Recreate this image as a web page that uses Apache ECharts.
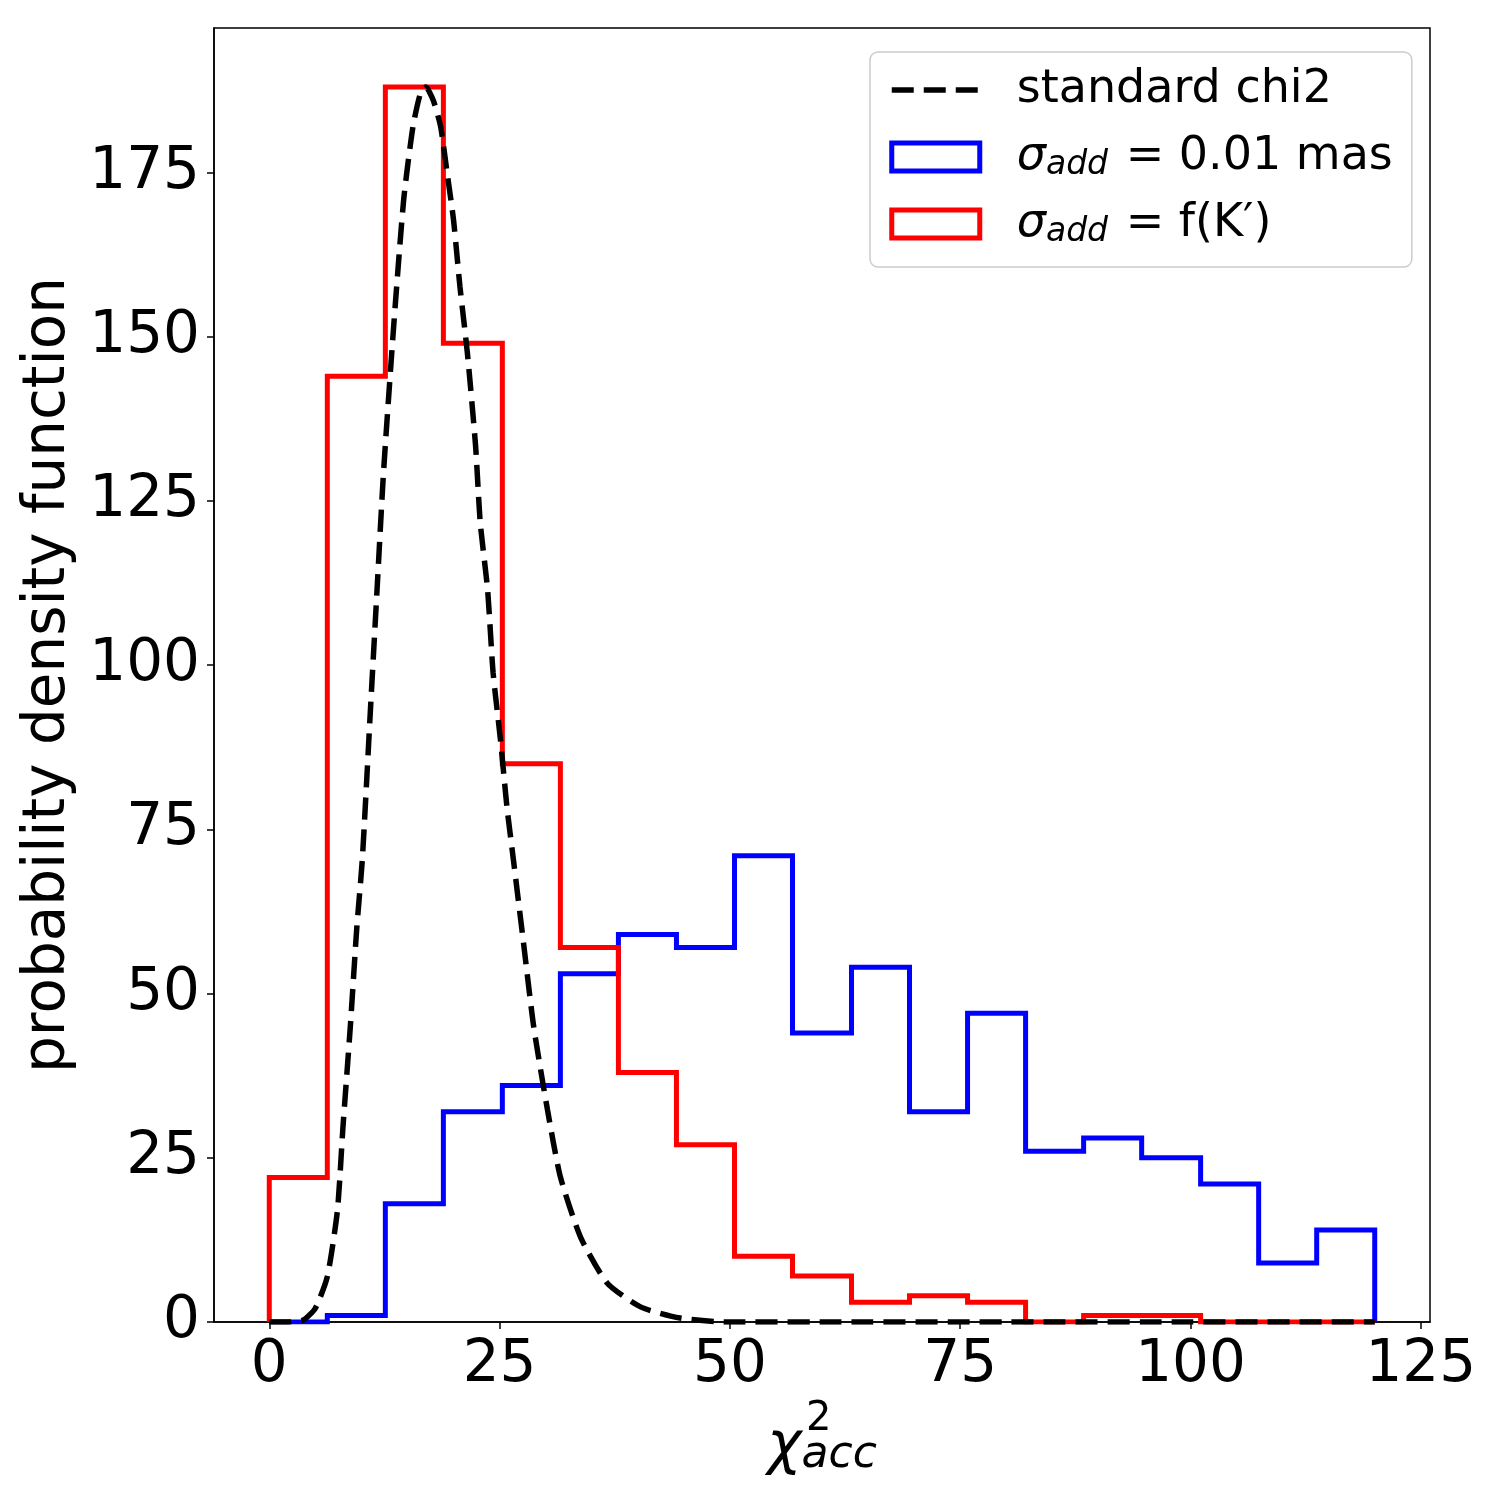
<!DOCTYPE html>
<html>
<head>
<meta charset="utf-8">
<script src="https://cdn.jsdelivr.net/npm/echarts@6/dist/echarts.min.js"></script>
<style>
  html, body { margin: 0; padding: 0; background: #fff; }
  #chart { width: 1500px; height: 1500px; }
</style>
</head>
<body>
<div id="chart"></div>
<script>
// histogram bin edges and counts
const binEdges = [0, 6.3, 12.6, 18.9, 25.3, 31.6, 37.9, 44.2, 50.5, 56.8, 63.2, 69.5, 75.8, 82.1, 88.4, 94.7, 101.1, 107.4, 113.7, 120];
const blueCounts = [0, 1, 18, 32, 36, 53, 59, 57, 71, 44, 54, 32, 47, 26, 28, 25, 21, 9, 14];
const redCounts = [22, 144, 188, 149, 85, 57, 38, 27, 10, 7, 3, 4, 3, 0, 1, 1, 0, 0, 0];

// dashed reference curve, sampled by eye
const chi2X = [0, 2, 3.7, 5.0, 6.3, 7.4, 8.0, 8.8, 9.5, 10.1, 11.0, 11.7, 12.4, 13.5, 14.6, 15.6, 16.4, 17.0, 17.8, 18.6, 19.3, 20.0, 20.7, 21.5, 22.4, 22.9, 23.7, 24.3, 25.1, 25.8, 26.5, 27.6, 28.7, 30.2, 31.6, 33.8, 36.7, 40.3, 44.6, 49.7, 60, 80, 100, 120];
const chi2Y = [0, 0, 0.3, 2.1, 6.9, 17, 29.7, 45, 60, 70.4, 93.7, 111.5, 129.3, 151.5, 171, 182, 187, 188, 186, 182, 175, 167.8, 157.6, 147.6, 133.3, 121.7, 111.5, 98.8, 88.6, 78.4, 70.4, 57.7, 45, 32.3, 22.1, 12.9, 5.9, 2.3, 0.6, 0, 0, 0, 0, 0];

const xTicks = [0, 25, 50, 75, 100, 125];
const yTicks = [0, 25, 50, 75, 100, 125, 150, 175];

const FONT = 'DejaVu Sans';

const stepOutline = (edges, counts) => {
    const pts = [[edges[0], 0]];
    for (let i = 0; i < counts.length; i++) {
        pts.push([edges[i], counts[i]]);
        pts.push([edges[i + 1], counts[i]]);
    }
    pts.push([edges[edges.length - 1], 0]);
    return pts;
};

const chart = echarts.init(document.getElementById('chart'), null, { renderer: 'canvas' });

const legendNames = {
    'standard chi2': 'standard chi2',
    'sigma001': '{sig|σ}{sub|add} = 0.01 mas',
    'sigmaK': '{sig|σ}{sub|add} = f(K′)'
};

chart.setOption({
    animation: false,
    backgroundColor: '#fff',
    grid: {
        left: 214, top: 28, width: 1216, height: 1294,
        show: true, borderColor: '#000', borderWidth: 1.5, backgroundColor: 'transparent'
    },
    legend: {
        orient: 'vertical',
        left: 870, top: 52,
        padding: [13, 19, 18, 19],
        itemWidth: 88, itemHeight: 28, itemGap: 17,
        backgroundColor: '#fff',
        borderColor: '#cccccc', borderWidth: 1.5, borderRadius: 8,
        formatter: (name) => legendNames[name],
        textStyle: {
            fontFamily: FONT, fontSize: 46, color: '#000', lineHeight: 50,
            padding: [0, 0, 0, 32],
            rich: {
                sig: { fontFamily: FONT, fontStyle: 'italic', fontSize: 46, lineHeight: 50 },
                sub: { fontFamily: FONT, fontStyle: 'italic', fontSize: 33, lineHeight: 30, verticalAlign: 'bottom', padding: [0, 3, 0, 0] }
            }
        },
        data: [
            { name: 'standard chi2', itemStyle: { color: 'rgba(0,0,0,0)', borderWidth: 0, opacity: 0 },
              lineStyle: { color: '#000', width: 5.5, type: [22, 10] } },
            { name: 'sigma001', icon: 'rect',
              itemStyle: { color: 'rgba(0,0,0,0)', borderColor: '#0000ff', borderWidth: 5 } },
            { name: 'sigmaK', icon: 'rect',
              itemStyle: { color: 'rgba(0,0,0,0)', borderColor: '#ff0000', borderWidth: 5 } }
        ]
    },
    xAxis: {
        type: 'value', min: -6, max: 126,
        name: '{chi|χ}{sub|acc}',
        nameLocation: 'middle', nameGap: 96,
        nameTextStyle: {
            rich: {
                chi: { fontFamily: FONT, fontStyle: 'italic', fontSize: 58, lineHeight: 60, color: '#000' },
                sub: { fontFamily: FONT, fontStyle: 'italic', fontSize: 44, lineHeight: 40, verticalAlign: 'bottom', color: '#000' }
            }
        },
        axisLine: { show: true, onZero: false, lineStyle: { color: '#000', width: 1.5 } },
        axisTick: { show: true, length: 7, customValues: xTicks, lineStyle: { color: '#000', width: 1.5 } },
        axisLabel: { customValues: xTicks, margin: 15, fontFamily: FONT, fontSize: 58, color: '#000' },
        splitLine: { show: false }
    },
    yAxis: {
        type: 'value', min: 0, max: 197,
        name: 'probability density function',
        nameLocation: 'middle', nameGap: 136,
        nameTextStyle: { fontFamily: FONT, fontSize: 58, color: '#000' },
        axisLine: { show: true, onZero: false, lineStyle: { color: '#000', width: 1.5 } },
        axisTick: { show: true, length: 7, customValues: yTicks, lineStyle: { color: '#000', width: 1.5 } },
        axisLabel: { customValues: yTicks, margin: 14, fontFamily: FONT, fontSize: 58, color: '#000' },
        splitLine: { show: false }
    },
    graphic: [
        { type: 'text', left: 806, top: 1400,
          style: { text: '2', fontFamily: FONT, fontSize: 40, fill: '#000' } }
    ],
    series: [
        {
            name: 'sigma001', type: 'line', data: stepOutline(binEdges, blueCounts),
            symbol: 'none', z: 2,
            lineStyle: { color: '#0000ff', width: 5, join: 'miter' }, itemStyle: { color: '#0000ff' }
        },
        {
            name: 'sigmaK', type: 'line', data: stepOutline(binEdges, redCounts),
            symbol: 'none', z: 3,
            lineStyle: { color: '#ff0000', width: 5, join: 'miter' }, itemStyle: { color: '#ff0000' }
        },
        {
            name: 'standard chi2', type: 'line', data: chi2X.map((x, i) => [x, chi2Y[i]]),
            symbol: 'none', smooth: 0.2, z: 4,
            lineStyle: { color: '#000', width: 5.5, type: [22, 10] }, itemStyle: { color: '#000' }
        }
    ]
});
</script>
</body>
</html>
